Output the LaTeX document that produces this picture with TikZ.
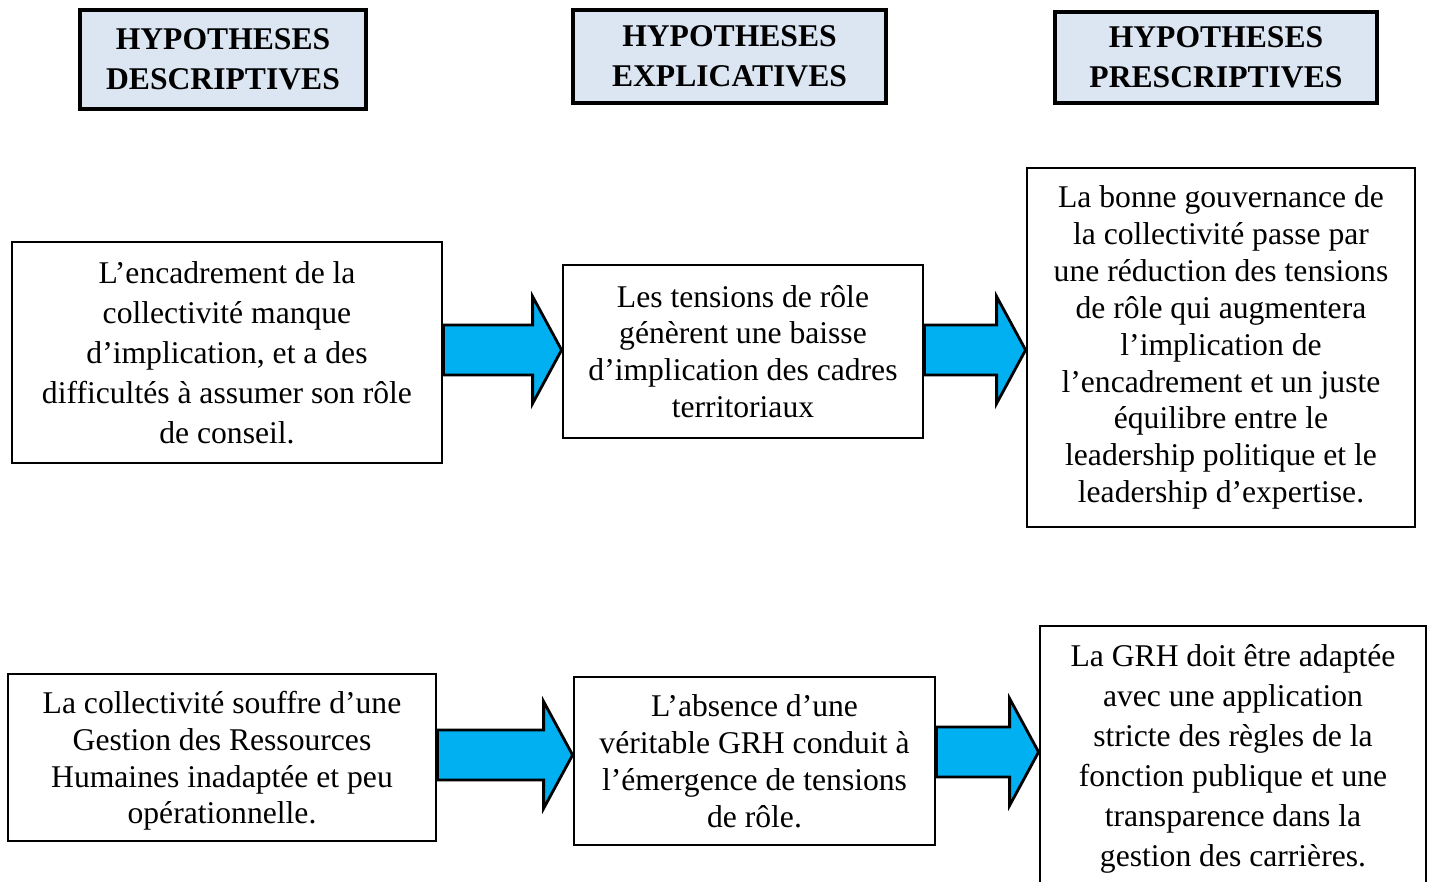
\documentclass[tikz,border=0pt]{standalone}
\usepackage{fontspec}
\setmainfont{Liberation Serif}
\usepackage{xcolor}
\usetikzlibrary{calc}

\definecolor{headblue}{RGB}{220,230,242}
\definecolor{arrowblue}{RGB}{0,176,240}

% block arrow between two boxes, at height #3
\newcommand{\blockarrow}[3]{%
  \draw[bigarrow] let \p1=(#1.east), \p2=(#2.west), \p3=(0,#3) in
    (\x1,\y3+0.5cm) -- (\x2-0.58cm,\y3+0.5cm) -- (\x2-0.58cm,\y3+1.07cm)
    -- (\x2,\y3) -- (\x2-0.58cm,\y3-1.07cm) -- (\x2-0.58cm,\y3-0.5cm)
    -- (\x1,\y3-0.5cm) -- cycle;}

\begin{document}
\begin{tikzpicture}[
    x=0.02cm, y=-0.02cm,
    every node/.style={draw, rectangle, align=center, inner sep=0pt},
    headbox/.style={fill=headblue, line width=1.9pt, font=\bfseries\fontsize{18}{22.8}\selectfont},
    textbox/.style={fill=white, line width=1.6pt, font=\fontsize{18}{21}\selectfont},
    widebox/.style={textbox, font=\fontsize{18}{22.8}\selectfont},
    bigarrow/.style={fill=arrowblue, draw=black, line width=1.6pt, line join=miter}
  ]
  \clip (0,0) rectangle (1431,882);

  % En-tetes
  \node[headbox, minimum width=286*0.02cm, minimum height=99*0.02cm, text depth=0pt] (headdesc) at (223,59.5) {HYPOTHESES\\DESCRIPTIVES};
  \node[headbox, minimum width=313*0.02cm, minimum height=93*0.02cm, text depth=0pt] (headexpl) at (729.5,56.5) {HYPOTHESES\\EXPLICATIVES};
  \node[headbox, minimum width=322*0.02cm, minimum height=91*0.02cm, text depth=0pt] (headpres) at (1216,57.5) {HYPOTHESES\\PRESCRIPTIVES};

  % Premiere ligne
  \node[widebox, minimum width=430*0.02cm, minimum height=221*0.02cm] (desc1) at (227,352.5)
    {L'encadrement de la\\collectivité manque\\d'implication, et a des\\difficultés à assumer son rôle\\de conseil.};
  \node[textbox, minimum width=360*0.02cm, minimum height=173*0.02cm] (expl1) at (743,351.5)
    {Les tensions de rôle\\génèrent une baisse\\d'implication des cadres\\territoriaux};
  \node[textbox, minimum width=388*0.02cm, minimum height=359*0.02cm] (pres1) at (1221,347.5)
    {La bonne gouvernance de\\la collectivité passe par\\une réduction des tensions\\de rôle qui augmentera\\l'implication de\\l'encadrement et un juste\\équilibre entre le\\leadership politique et le\\leadership d'expertise.};

  % Deuxieme ligne
  \node[textbox, minimum width=428*0.02cm, minimum height=167*0.02cm, text depth=0pt] (desc2) at (222,757.5)
    {La collectivité souffre d'une\\Gestion des Ressources\\Humaines inadaptée et peu\\opérationnelle.};
  \node[textbox, minimum width=361*0.02cm, minimum height=168*0.02cm] (expl2) at (754.5,761)
    {L'absence d'une\\véritable GRH conduit à\\l'émergence de tensions\\de rôle.};
  \node[widebox, minimum width=386*0.02cm, minimum height=266*0.02cm] (pres2) at (1233,759)
    {La GRH doit être adaptée\\avec une application\\stricte des règles de la\\fonction publique et une\\transparence dans la\\gestion des carrières.};

  % Fleches
  \blockarrow{desc1}{expl1}{350}
  \blockarrow{expl1}{pres1}{350}
  \blockarrow{desc2}{expl2}{755}
  \blockarrow{expl2}{pres2}{752}
\end{tikzpicture}
\end{document}
